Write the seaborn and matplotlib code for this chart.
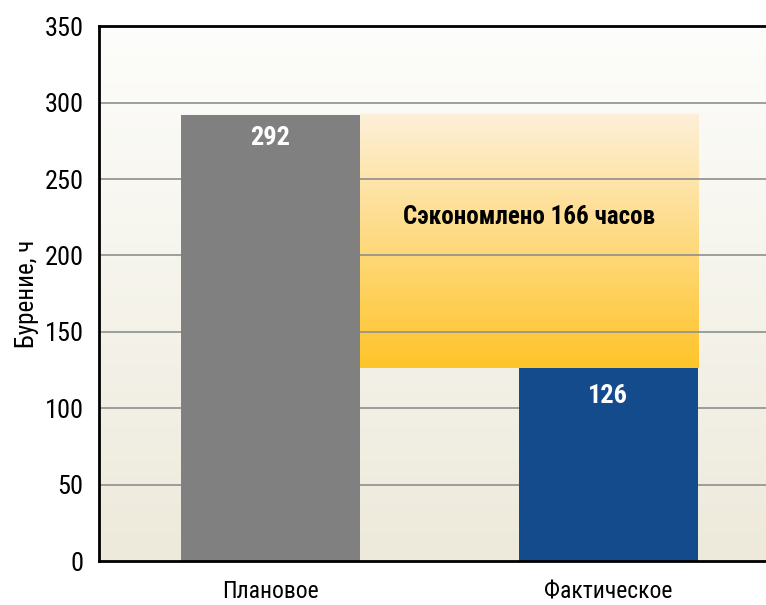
import numpy as np
import pandas as pd
import matplotlib
matplotlib.use("Agg")
import matplotlib.pyplot as plt
import seaborn as sns
from matplotlib import font_manager
from matplotlib.colors import LinearSegmentedColormap

# Data
categories = ["Плановое", "Фактическое"]
hours = [292, 126]
saved_label = "Сэкономлено 166 часов"
y_label = "Бурение, ч"
y_ticks = [0, 50, 100, 150, 200, 250, 300, 350]

df = pd.DataFrame({"cat": categories, "hours": hours})

# pick a narrow face if one is installed
names = {f.name for f in font_manager.fontManager.ttflist}
narrow = None
for cand in ["Liberation Sans Narrow", "DejaVu Sans Condensed",
             "Roboto Condensed", "Open Sans Condensed", "Noto Sans Condensed"]:
    if cand in names:
        narrow = cand
        break
scale = 1.0 if narrow else 0.82

sns.set_style("white")
plt.rcParams["font.family"] = [narrow or "DejaVu Sans", "DejaVu Sans"]
if not narrow:
    plt.rcParams["font.stretch"] = "condensed"

fig = plt.figure(figsize=(7.66, 6.05), dpi=100)
ax = fig.add_axes([0.129, 0.0727, 0.871, 0.884])

bar_w = 0.53
sns.barplot(data=df, x="cat", y="hours", hue="cat",
            palette=["#808080", "#134b8d"], width=bar_w, saturation=1,
            legend=False, ax=ax, zorder=2, linewidth=0)

x0, x1 = -0.507, 1.466

# background gradient (light top -> beige bottom)
bg = LinearSegmentedColormap.from_list("bg", ["#edeadb", "#fdfdfb"])
ax.imshow(np.linspace(0, 1, 256).reshape(-1, 1), cmap=bg, aspect="auto",
          origin="lower", extent=[x0, x1, 0, 350], zorder=0.1)

# savings gradient between the bars
sv = LinearSegmentedColormap.from_list("sv", ["#ffc429", "#fdf0d8"])
ax.imshow(np.linspace(0, 1, 256).reshape(-1, 1), cmap=sv, aspect="auto",
          origin="lower",
          extent=[bar_w / 2, 1 + bar_w / 2, hours[1], hours[0]], zorder=0.2)
ax.set_xlim(x0, x1)
ax.set_ylim(0, 350)

# gridlines
for v in y_ticks[1:-1]:
    ax.axhline(v, color="#8e8e8e", lw=1.2, zorder=0.5)

# labels
ax.text(0, hours[0] - 15, str(hours[0]), ha="center", va="center",
        color="white", fontsize=19 * scale, fontweight="bold", zorder=3)
ax.text(1, hours[1] - 18, str(hours[1]), ha="center", va="center",
        color="white", fontsize=19 * scale, fontweight="bold", zorder=3)
ax.text(0.5 + bar_w / 2, 225, saved_label, ha="center", va="center",
        color="black", fontsize=18 * scale, fontweight="bold", zorder=3)

ax.set_yticks(y_ticks)
ax.set_yticklabels([str(t) for t in y_ticks], fontsize=19 * scale,
                   color="black")
ax.tick_params(axis="y", length=0, pad=11)
ax.tick_params(axis="x", length=0, pad=14, labelsize=17 * scale,
               labelcolor="black")
ax.set_xticks([0.5], minor=True)
ax.tick_params(axis="x", which="minor", direction="in", length=10,
               width=1.2, color="black")
ax.set_xlabel("")
ax.set_ylabel(y_label, fontsize=18 * scale, labelpad=4, color="black")

for side in ["top", "left", "bottom"]:
    ax.spines[side].set_color("black")
    ax.spines[side].set_linewidth(2)
ax.spines["right"].set_visible(False)

fig.savefig("out.png", dpi=100)
